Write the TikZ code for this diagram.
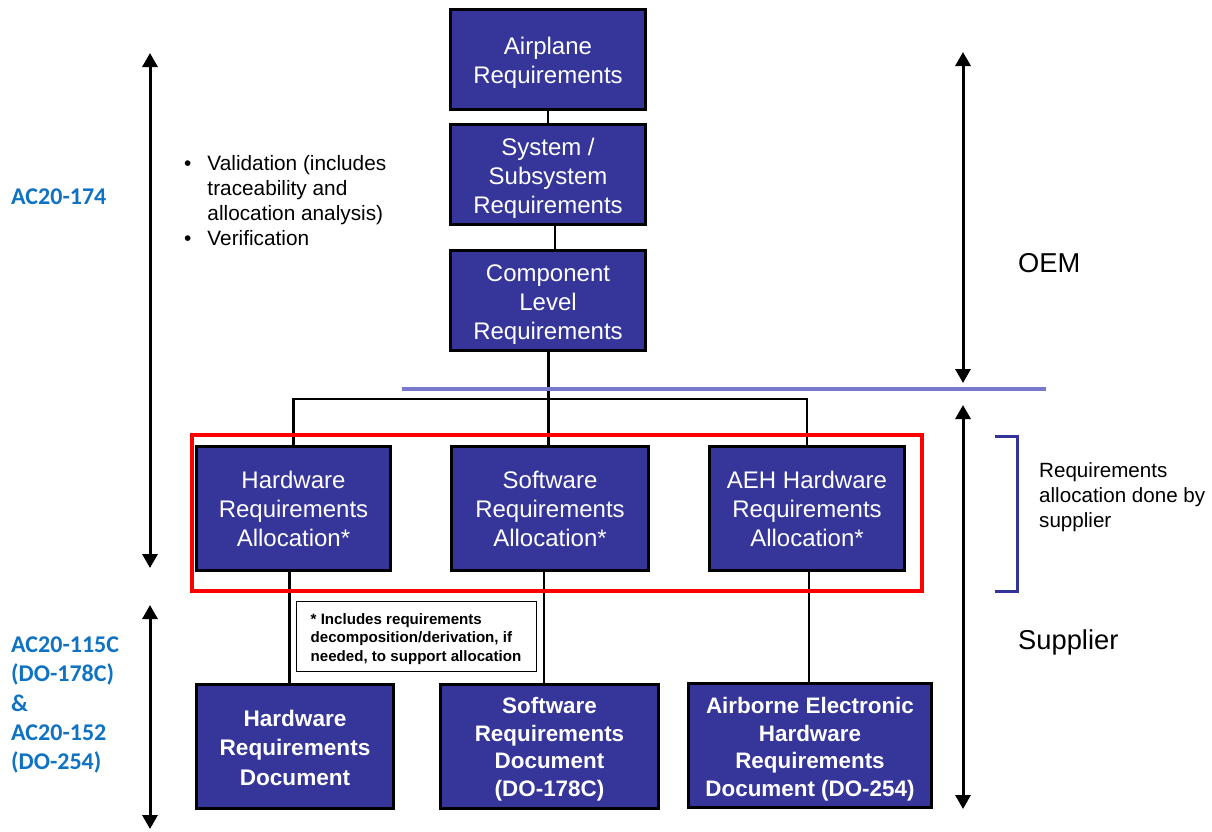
\documentclass[tikz,border=0pt]{standalone}
\usepackage{fontspec}
\setmainfont{Liberation Sans}
\newfontfamily\calibri{Carlito}
\usetikzlibrary{arrows.meta}
\definecolor{boxblue}{HTML}{35359A}
\definecolor{refblue}{HTML}{0F72C2}
\definecolor{splitline}{HTML}{7878CC}
\definecolor{bracketblue}{HTML}{33339A}
% invisible rule that lowers a centred text block inside its box
\newcommand\padtop[1]{\rule{0pt}{#1}}
\begin{document}
\begin{tikzpicture}[x=1pt,y=-1pt,
  reqbox/.style={rectangle, draw=black, line width=3pt, fill=boxblue, text=white,
    align=center, inner sep=0pt, minimum width=195pt, minimum height=100pt,
    font=\fontsize{24}{29}\selectfont},
  docbox/.style={reqbox, minimum height=124pt, font=\bfseries\fontsize{22.4}{27.5}\selectfont},
  link/.style={line width=2.5pt, draw=black},
  span/.style={line width=3pt, {Triangle[width=15pt,length=14pt]}-{Triangle[width=15pt,length=14pt]}},
  reftext/.style={text=refblue, font=\calibri\bfseries\fontsize{24}{29.3}\selectfont, align=left, inner sep=0pt},
  plain/.style={inner sep=0pt, align=left}]
\useasboundingbox (0,0) rectangle (1212,831);

% OEM-side requirement chain
\node[reqbox] (air) at (548,59) {\padtop{24.5pt}Airplane\\Requirements};
\node[reqbox] (sys) at (548,174.5) {\padtop{24pt}System /\\Subsystem\\Requirements};
\node[reqbox] (comp) at (548,300.5) {\padtop{25.8pt}Component\\Level\\Requirements};

% supplier allocations
\node[reqbox, minimum width=194pt, minimum height=124pt] (hwA) at (293.5,508.5) {Hardware\\Requirements\\Allocation*};
\node[reqbox, minimum width=197pt, minimum height=124pt] (swA) at (550,508.5) {Software\\Requirements\\Allocation*};
\node[reqbox, minimum width=195pt, minimum height=124pt] (aehA) at (807,508.5) {AEH Hardware\\Requirements\\Allocation*};

% requirement documents
\node[docbox, minimum width=197pt, font=\bfseries\fontsize{22.6}{29.5}\selectfont] (hwD) at (295,746.5) {\padtop{18.5pt}Hardware\\Requirements\\Document};
\node[docbox, minimum width=218pt] (swD) at (549.5,746.5) {\padtop{21.6pt}Software\\Requirements\\Document\\(DO-178C)};
\node[docbox, minimum width=243pt] (aehD) at (810,745.5) {\padtop{23.5pt}Airborne Electronic\\Hardware\\Requirements\\Document (DO-254)};

% connectors
\coordinate (bus) at (548,399);
\draw[link, line width=2pt] (air.south) -- (sys.north);
\draw[link, line width=2pt] ([xshift=7pt]sys.south) -- ([xshift=7pt]sys.south |- comp.north);
\draw[link, line width=3pt] (comp.south) -- (comp.south |- swA.north);
\draw[link] (hwA.north) -- (hwA.north |- bus) -- (aehA.north |- bus) -- (aehA.north);
\draw[link] ([xshift=-4pt]hwA.south) -- ([xshift=-4pt]hwA.south |- hwD.north);
\draw[link] ([xshift=-6pt]swA.south) -- ([xshift=-6pt]swA.south |- swD.north);
\draw[link] ([xshift=2pt]aehA.south) -- ([xshift=2pt]aehA.south |- aehD.north);

% OEM / supplier split and allocation group
\draw[splitline, line width=4pt] (402,389) -- (1046,389);
\draw[red, line width=4pt] (192,435) rectangle (922,591);
\draw[bracketblue, line width=3pt] (995,436) -- (1017,436) -- (1017,591) -- (995,591);

% footnote
\node[draw=black, line width=1pt, minimum width=240pt, minimum height=70pt, align=left, inner sep=0pt,
      font=\bfseries\fontsize{15.1}{18.5}\selectfont] (note) at (416,636)
  {\padtop{17pt}* Includes requirements\\decomposition/derivation, if\\needed, to support allocation};

% scope arrows
\coordinate (lt1) at (150,53);  \coordinate (lb1) at (150,568);
\coordinate (lt2) at (150,605); \coordinate (lb2) at (150,829);
\coordinate (rt1) at (963,52);  \coordinate (rb1) at (963,383);
\coordinate (rt2) at (963,405); \coordinate (rb2) at (963,809);
\draw[span] (lt1) -- (lb1);
\draw[span] (lt2) -- (lb2);
\draw[span] (rt1) -- (rb1);
\draw[span] (rt2) -- (rb2);

% side labels
\node[reftext, anchor=west] (ac174) at (11,197) {AC20-174};
\node[reftext, anchor=west] (acdo) at (11,705) {AC20-115C\\(DO-178C)\\\&\\AC20-152\\(DO-254)};
\node[plain, anchor=west, font=\fontsize{20.8}{25}\selectfont] (bul) at (184,202.5)
  {\begin{tabular}{@{}l@{\hspace{16pt}}l@{}}
    \textbullet & Validation (includes\\
                & traceability and\\
                & allocation analysis)\\
    \textbullet & Verification
   \end{tabular}};
\node[plain, anchor=west, font=\fontsize{27.3}{30}\selectfont] (oem) at (1018,263) {OEM};
\node[plain, anchor=west, font=\fontsize{27.3}{30}\selectfont] (sup) at (1018,642) {Supplier};
\node[plain, anchor=west, font=\fontsize{20.6}{25}\selectfont] (alloc) at (1039,497)
  {Requirements\\allocation done by\\supplier};
\end{tikzpicture}
\end{document}
